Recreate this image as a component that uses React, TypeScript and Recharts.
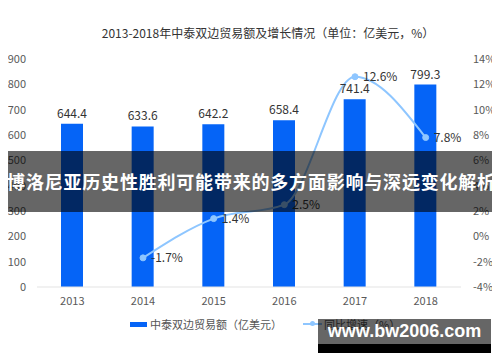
import { ComposedChart, Bar, Line, XAxis, YAxis, LabelList } from "recharts";

const years = ["2013", "2014", "2015", "2016", "2017", "2018"];
const tradeValues = [644.4, 633.6, 642.2, 658.4, 741.4, 799.3];
const growthRates: (number | null)[] = [null, -1.7, 1.4, 2.5, 12.6, 7.8];
const leftTicks = [0, 100, 200, 300, 400, 500, 600, 700, 800, 900];
const rightTicks = [-4, -2, 0, 2, 4, 6, 8, 10, 12, 14];

const title = "2013-2018年中泰双边贸易额及增长情况（单位：亿美元，%）";
const barName = "中泰双边贸易额（亿美元）";
const lineName = "同比增速（%）";
const banner = "博洛尼亚历史性胜利可能带来的多方面影响与深远变化解析";
const watermark = "www.bw2006.com";

const data = years.map((year, i) => ({
  year,
  trade: tradeValues[i],
  growth: growthRates[i],
}));

const FONT = '"Noto Sans CJK SC", "Noto Sans", sans-serif';
const BAR = "#0564f7";
const LINE = "#8ec6ff";
const tickStyle = { fill: "#595959", fontSize: 11, fontFamily: FONT };

export default function App() {
  return (
    <div style={{ position: "relative", width: 500, height: 362, margin: -8, background: "#fff", fontFamily: FONT }}>
      <div
        style={{
          position: "absolute",
          left: 0,
          width: 536,
          top: 25,
          textAlign: "center",
          fontSize: 12,
          color: "#333",
          lineHeight: "16px",
        }}
      >
        {title}
      </div>

      <ComposedChart width={500} height={362} data={data} margin={{ top: 59, right: 0, bottom: 35, left: 0 }}>
        <XAxis
          dataKey="year"
          height={40}
          tickLine={false}
          axisLine={{ stroke: "#e3e3e3" }}
          tick={tickStyle}
          tickMargin={4}
        />
        <YAxis
          yAxisId="left"
          width={37}
          domain={[0, 900]}
          ticks={leftTicks}
          axisLine={false}
          tickLine={false}
          tick={tickStyle}
          tickMargin={5}
        />
        <YAxis
          yAxisId="right"
          orientation="right"
          width={39}
          domain={[-4, 14]}
          ticks={rightTicks}
          axisLine={false}
          tickLine={false}
          tick={tickStyle}
          tickMargin={6}
          tickFormatter={(v: number) => `${v}%`}
        />
        <Bar yAxisId="left" dataKey="trade" fill={BAR} barSize={22} isAnimationActive={false}>
          <LabelList dataKey="trade" position="top" offset={6} style={{ fill: "#333", fontSize: 12, fontFamily: FONT }} />
        </Bar>
        <Line
          yAxisId="right"
          type="monotone"
          dataKey="growth"
          stroke={LINE}
          strokeWidth={2}
          dot={{ r: 3, fill: LINE, stroke: LINE, strokeWidth: 1 }}
          isAnimationActive={false}
        >
          <LabelList
            dataKey="growth"
            position="right"
            offset={8}
            formatter={(v: number) => (v == null ? "" : `${v}%`)}
            style={{ fill: "#333", fontSize: 12, fontFamily: FONT }}
          />
        </Line>
      </ComposedChart>

      <div style={{ position: "absolute", top: 316, left: 130, display: "flex", alignItems: "center", fontSize: 11, color: "#555", lineHeight: "16px" }}>
        <span style={{ display: "inline-block", width: 17, height: 5, background: BAR, marginRight: 3 }} />
        <span>{barName}</span>
        <span style={{ position: "relative", display: "inline-block", width: 19, height: 2, background: LINE, marginLeft: 21, marginRight: 2 }}>
          <span style={{ position: "absolute", left: 7, top: -2, width: 5, height: 5, borderRadius: 3, background: LINE }} />
        </span>
        <span>{lineName}</span>
      </div>

      <div
        style={{
          position: "absolute",
          left: 3,
          top: 151,
          width: 497,
          height: 61,
          background: "rgba(0,0,0,0.6)",
          color: "#fff",
          fontSize: 18,
          letterSpacing: 0.8,
          fontWeight: "bold",
          lineHeight: "61px",
          textAlign: "center",
          whiteSpace: "nowrap",
          overflow: "hidden",
        }}
      >
        {banner}
      </div>

      <div
        style={{
          position: "absolute",
          left: 318,
          top: 319,
          width: 173,
          height: 25,
          background: "rgba(0,0,0,0.6)",
          color: "#fff",
          fontFamily: '"Liberation Sans", Arial, sans-serif',
          fontSize: 18,
          fontWeight: "bold",
          lineHeight: "25px",
          textAlign: "center",
        }}
      >
        {watermark}
      </div>
      <div style={{ position: "absolute", left: 318, top: 344, width: 173, height: 9, background: "#000" }} />
    </div>
  );
}
